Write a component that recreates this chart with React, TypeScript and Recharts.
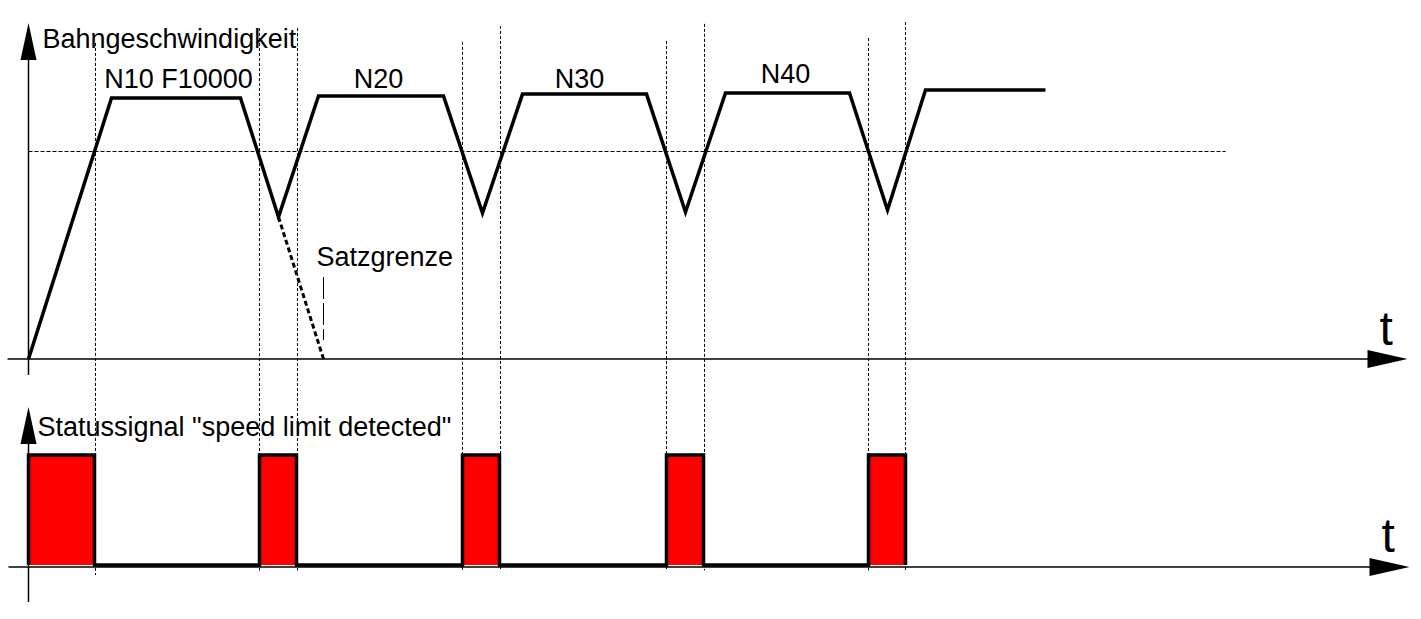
import React from "react";
import {
  ComposedChart,
  Line,
  Area,
  XAxis,
  YAxis,
  ReferenceLine,
  ReferenceDot,
} from "recharts";

// time axis (arbitrary units), speed profile of the path
const speedTimes = [0, 83, 212, 250, 290, 415, 454, 494, 618, 657, 697, 821, 859, 897, 1017];
const speedValues = [0, 10000, 10000, 5440, 10080, 10080, 5590, 10150, 10150, 5630, 10190, 10190, 5710, 10310, 10310];

// decel ramp that would have been needed to stop at the block end
const overrunTimes = [250, 295];
const overrunValues = [5440, 0];

const limitSpeed = 7950;

// block boundaries (where speed crosses the limit)
const blockBoundaries = [67, 231, 269, 434, 472, 638, 676, 840, 877];
const boundaryTops = [12110, 12680, 12680, 12150, 12760, 12180, 12840, 12300, 12910];

// status signal "speed limit detected"
const statusTimes = [0, 0, 66, 231, 268, 434, 471, 638, 675, 840, 877];
const statusValues = [0, 1, 0, 1, 0, 1, 0, 1, 0, 1, 0];

const blockLabels = ["N10 F10000", "N20", "N30", "N40"];
const blockLabelTimes = [150, 350, 551, 757];
const blockLabelSpeeds = [10380, 10380, 10380, 10570];

const speedData = speedTimes.map((t, i) => ({ t, v: speedValues[i] }));
const overrunData = overrunTimes.map((t, i) => ({ t, v: overrunValues[i] }));
const statusData = statusTimes.map((t, i) => ({ t, s: statusValues[i] }));

const FONT = '"Liberation Sans", Arial, sans-serif';

const arrowRight = (p: any) => (
  <polygon
    points={`${p.cx},${p.cy} ${p.cx - 40},${p.cy - 9} ${p.cx - 40},${p.cy + 9}`}
    fill="#000"
  />
);

const arrowUp = (p: any) => (
  <polygon
    points={`${p.cx},${p.cy} ${p.cx - 8},${p.cy + 37} ${p.cx + 8},${p.cy + 37}`}
    fill="#000"
  />
);

const textShape =
  (value: string, size = 27, anchor: "start" | "middle" = "start") =>
  (p: any) => (
    <text x={p.cx} y={p.cy} fontSize={size} fontFamily={FONT} fill="#000" textAnchor={anchor}>
      {value}
    </text>
  );

export default function App() {
  return (
    <div style={{ position: "absolute", left: 0, top: 0, width: 1421, height: 619, background: "#fff" }}>
      <ComposedChart width={1421} height={619} margin={{ top: 0, right: 0, bottom: 0, left: 0 }}>
        <XAxis type="number" dataKey="t" domain={[-28.5, 1392.5]} allowDataOverflow hide />
        <YAxis yAxisId="v" type="number" domain={[-9962, 13755]} allowDataOverflow hide />
        <YAxis yAxisId="s" type="number" domain={[-0.491, 5.136]} allowDataOverflow hide />

        {/* speed limit */}
        <ReferenceLine
          yAxisId="v"
          segment={[{ x: 0, y: limitSpeed }, { x: 1197, y: limitSpeed }]}
          stroke="#000"
          strokeWidth={1}
          strokeDasharray="4 2"
        />

        {/* block boundaries */}
        {blockBoundaries.map((t, i) => (
          <ReferenceLine
            key={`b-${i}`}
            yAxisId="v"
            segment={[{ x: t, y: boundaryTops[i] }, { x: t, y: i === 0 ? -8280 : -8100 }]}
            stroke="#000"
            strokeWidth={1}
            strokeDasharray="3 2"
          />
        ))}

        {/* axes of the speed plot */}
        <ReferenceLine yAxisId="v" segment={[{ x: -21, y: 0 }, { x: 1345, y: 0 }]} stroke="#000" strokeWidth={1.5} />
        <ReferenceLine yAxisId="v" segment={[{ x: 0, y: -613 }, { x: 0, y: 11456 }]} stroke="#000" strokeWidth={1.5} />
        <ReferenceDot yAxisId="v" x={1379} y={0} r={0} shape={arrowRight} />
        <ReferenceDot yAxisId="v" x={0} y={12874} r={0} shape={arrowUp} />

        {/* axes of the status plot */}
        <ReferenceLine yAxisId="s" segment={[{ x: -20, y: -0.018 }, { x: 1345, y: -0.018 }]} stroke="#000" strokeWidth={1.5} />
        <ReferenceLine yAxisId="s" segment={[{ x: 0, y: -0.336 }, { x: 0, y: 1.109 }]} stroke="#000" strokeWidth={1.5} />
        <ReferenceDot yAxisId="s" x={1381} y={-0.018} r={0} shape={arrowRight} />
        <ReferenceDot yAxisId="s" x={0} y={1.436} r={0} shape={arrowUp} />

        {/* Satzgrenze marker */}
        <ReferenceLine
          yAxisId="v"
          segment={[{ x: 295, y: 3142 }, { x: 295, y: 728 }]}
          stroke="#000"
          strokeWidth={1}
          strokeDasharray="22 4"
        />

        <Area
          yAxisId="s"
          data={statusData}
          dataKey="s"
          type="stepAfter"
          baseValue={0}
          fill="#ff0000"
          fillOpacity={1}
          stroke="#000"
          strokeWidth={3.5}
          dot={false}
          activeDot={false}
          isAnimationActive={false}
        />

        <Line
          yAxisId="v"
          data={overrunData}
          dataKey="v"
          type="linear"
          stroke="#000"
          strokeWidth={3}
          strokeDasharray="5 3"
          dot={false}
          activeDot={false}
          isAnimationActive={false}
        />
        <Line
          yAxisId="v"
          data={speedData}
          dataKey="v"
          type="linear"
          stroke="#000"
          strokeWidth={3.5}
          dot={false}
          activeDot={false}
          isAnimationActive={false}
        />

        {/* texts */}
        <ReferenceDot yAxisId="v" x={14} y={11916} r={0} shape={textShape("Bahngeschwindigkeit")} />
        {blockLabels.map((label, i) => (
          <ReferenceDot
            key={`l-${i}`}
            yAxisId="v"
            x={blockLabelTimes[i]}
            y={blockLabelSpeeds[i]}
            r={0}
            shape={textShape(label, 27, "middle")}
          />
        ))}
        <ReferenceDot yAxisId="v" x={288} y={3563} r={0} shape={textShape("Satzgrenze")} />
        <ReferenceDot yAxisId="v" x={1351} y={536} r={0} shape={textShape("t", 48)} />
        <ReferenceDot yAxisId="s" x={9} y={1.173} r={0} shape={textShape('Statussignal "speed limit detected"')} />
        <ReferenceDot yAxisId="s" x={1353} y={0.118} r={0} shape={textShape("t", 48)} />
      </ComposedChart>
    </div>
  );
}
